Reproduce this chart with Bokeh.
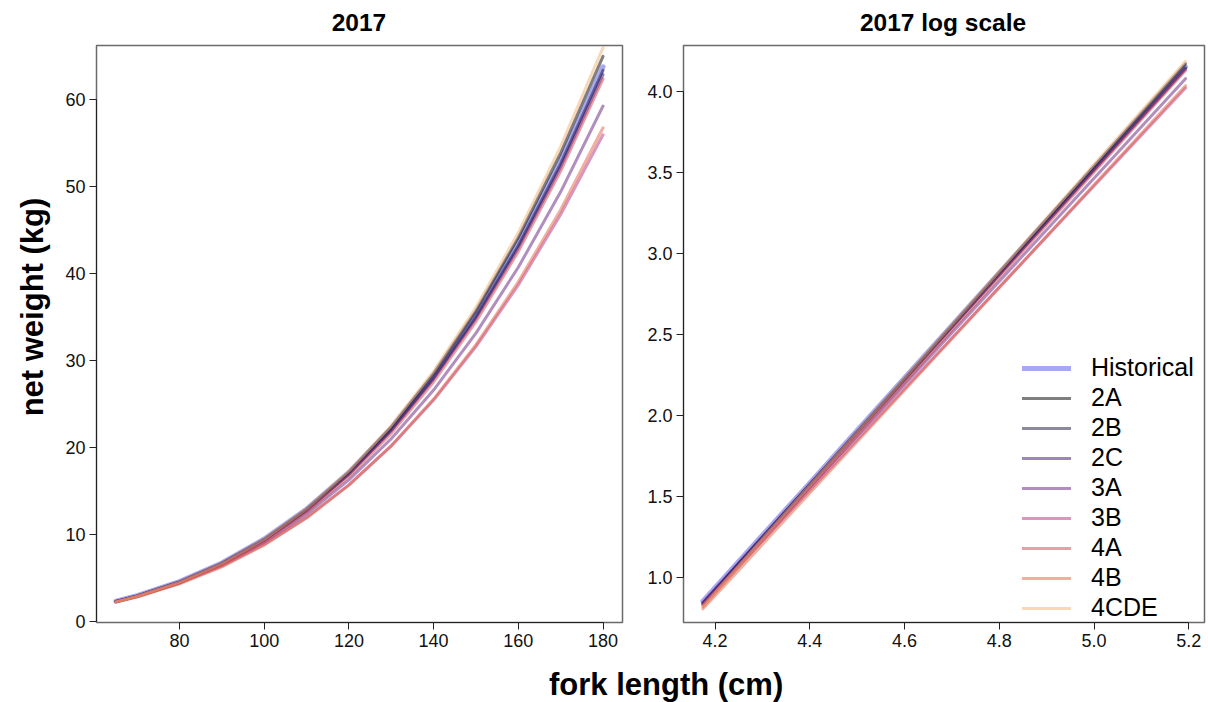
import numpy as np
from bokeh.plotting import figure
from bokeh.models import (Range1d, FixedTicker, PrintfTickFormatter, Legend,
                          LegendItem, Div)
from bokeh.layouts import column, row
from bokeh.embed import file_html
from bokeh.resources import INLINE

# fork length (cm) at which net weight (kg) is tabulated
lengths = [65, 70, 80, 90, 100, 110, 120, 130, 140, 150, 160, 170, 180]

# net weight (kg) by regulatory area, 2017
historical = [2.35, 2.99, 4.60, 6.74, 9.49, 12.92, 17.13, 22.20, 28.22, 35.29, 43.49, 52.93, 63.70]
area_2a = [2.30, 2.93, 4.54, 6.69, 9.44, 12.91, 17.17, 22.33, 28.47, 35.69, 44.10, 53.81, 64.90]
area_2b = [2.32, 2.95, 4.55, 6.67, 9.39, 12.80, 16.98, 22.01, 28.00, 35.03, 43.19, 52.58, 63.30]
area_2c = [2.33, 2.96, 4.56, 6.67, 9.38, 12.77, 16.92, 21.92, 27.86, 34.83, 42.91, 52.20, 62.81]
area_3a = [2.31, 2.92, 4.48, 6.51, 9.11, 12.34, 16.28, 21.00, 26.59, 33.13, 40.69, 49.35, 59.20]
area_3b = [2.30, 2.90, 4.41, 6.37, 8.87, 11.95, 15.70, 20.17, 25.44, 31.58, 38.65, 46.74, 55.90]
area_4a = [2.27, 2.89, 4.46, 6.54, 9.21, 12.56, 16.67, 21.62, 27.52, 34.44, 42.48, 51.74, 62.31]
area_4b = [2.24, 2.83, 4.33, 6.29, 8.79, 11.89, 15.67, 20.19, 25.55, 31.80, 39.02, 47.30, 56.70]
area_4cde = [2.28, 2.91, 4.53, 6.68, 9.46, 12.96, 17.27, 22.50, 28.74, 36.09, 44.67, 54.57, 65.91]

series_names = ["Historical", "2A", "2B", "2C", "3A", "3B", "4A", "4B", "4CDE"]
series_values = [historical, area_2a, area_2b, area_2c, area_3a, area_3b,
                 area_4a, area_4b, area_4cde]

# drawing style (semi-transparent palette)
series_colors = ["#5252e6", "#000000", "#1c1438", "#3a1272", "#62207e",
                 "#b2307e", "#d24050", "#e26040", "#f2b272"]
series_widths = [5, 3, 3, 3, 3, 3, 3, 3, 3]
LINE_ALPHA = 0.5

left_x_ticks = [80, 100, 120, 140, 160, 180]
left_y_ticks = [0, 10, 20, 30, 40, 50, 60]
right_x_ticks = [4.2, 4.4, 4.6, 4.8, 5.0, 5.2]
right_y_ticks = [1.0, 1.5, 2.0, 2.5, 3.0, 3.5, 4.0]

FONT = "Liberation Sans"
FIG_H = 614          # 2 px top border + 577 px frame + 35 px bottom border
TOP_H = 43
BOTTOM_H = 45


def style_figure(p):
    p.xgrid.visible = False
    p.ygrid.visible = False
    p.outline_line_color = "#6a6a6a"
    p.outline_line_width = 1.5
    p.background_fill_color = "white"
    p.border_fill_color = "white"
    for ax in (p.xaxis[0], p.yaxis[0]):
        ax.major_tick_in = 0
        ax.major_tick_out = 7
        ax.minor_tick_line_color = None
        ax.major_tick_line_color = "#222222"
        ax.axis_line_color = "#222222"
        ax.major_label_text_font = FONT
        ax.major_label_text_font_size = "18px"
        ax.major_label_text_color = "#111111"
        ax.major_label_standoff = 4


# ---- left panel: linear scale ----
p1 = figure(width=580, height=FIG_H, output_backend="svg", toolbar_location=None,
            title=None,
            x_range=Range1d(60.4, 184.6), y_range=Range1d(-0.10, 66.15),
            min_border_left=36, min_border_right=18, min_border_top=2,
            min_border_bottom=35)
style_figure(p1)
p1.xaxis[0].ticker = FixedTicker(ticks=left_x_ticks)
p1.yaxis[0].ticker = FixedTicker(ticks=left_y_ticks)
p1.xaxis[0].bounds = (left_x_ticks[0], left_x_ticks[-1])
p1.yaxis[0].bounds = (left_y_ticks[0], left_y_ticks[-1])

for vals, col, w in zip(series_values, series_colors, series_widths):
    p1.line(lengths, vals, line_color=col, line_alpha=LINE_ALPHA, line_width=w,
            line_join="round", line_cap="round")

# ---- right panel: natural-log scale ----
p2 = figure(width=568, height=FIG_H, output_backend="svg", toolbar_location=None,
            title=None,
            x_range=Range1d(4.1334, 5.2331), y_range=Range1d(0.722, 4.286),
            min_border_left=43, min_border_right=4, min_border_top=2,
            min_border_bottom=35)
style_figure(p2)
p2.xaxis[0].ticker = FixedTicker(ticks=right_x_ticks)
p2.yaxis[0].ticker = FixedTicker(ticks=right_y_ticks)
p2.xaxis[0].formatter = PrintfTickFormatter(format="%.1f")
p2.yaxis[0].formatter = PrintfTickFormatter(format="%.1f")
p2.xaxis[0].bounds = (right_x_ticks[0], right_x_ticks[-1])
p2.yaxis[0].bounds = (right_y_ticks[0], right_y_ticks[-1])

log_len = np.log(np.array(lengths, dtype=float))
items = []
for name, vals, col, w in zip(series_names, series_values, series_colors, series_widths):
    r = p2.line(log_len, np.log(np.array(vals, dtype=float)), line_color=col,
                line_alpha=LINE_ALPHA, line_width=w, line_join="round",
                line_cap="round")
    items.append(LegendItem(label=name, renderers=[r]))

legend = Legend(items=items, location=(339, 0))
legend.border_line_color = None
legend.background_fill_alpha = 0
legend.padding = 0
legend.margin = 0
legend.spacing = 1
legend.glyph_width = 49
legend.glyph_height = 20
legend.label_height = 20
legend.label_standoff = 20
legend.label_text_font = FONT
legend.label_text_font_size = "25px"
legend.label_text_color = "#000000"
p2.add_layout(legend)

# ---- panel titles and shared axis labels ----
BOLD = f"font-family:'{FONT}';font-weight:bold;color:#000000;white-space:nowrap;"

titles = Div(
    text=(f"<div style=\"position:relative;width:1208px;height:{TOP_H}px;\">"
          f"<div style=\"position:absolute;left:209px;width:300px;top:9px;"
          f"text-align:center;font-size:24.5px;line-height:28px;{BOLD}\">2017</div>"
          f"<div style=\"position:absolute;left:793px;width:300px;top:9px;"
          f"text-align:center;font-size:24.5px;line-height:28px;{BOLD}\">2017 log scale</div>"
          "</div>"),
    width=1208, height=TOP_H, margin=0)

ylabel = Div(
    text=(f"<div style=\"position:relative;width:60px;height:{FIG_H}px;\">"
          "<div style=\"position:absolute;left:33px;top:264px;"
          "transform:translate(-50%,-50%) rotate(-90deg);"
          f"font-size:31px;line-height:36px;{BOLD}\">net weight (kg)</div></div>"),
    width=60, height=FIG_H, margin=0)

xlabel = Div(
    text=(f"<div style=\"position:relative;width:1208px;height:{BOTTOM_H}px;\">"
          "<div style=\"position:absolute;left:549px;top:10px;"
          f"font-size:31px;line-height:36px;{BOLD}\">fork length (cm)</div></div>"),
    width=1208, height=BOTTOM_H, margin=0)

layout = column(titles, row(ylabel, p1, p2), xlabel)
open("out.html", "w").write(file_html(layout, INLINE))
